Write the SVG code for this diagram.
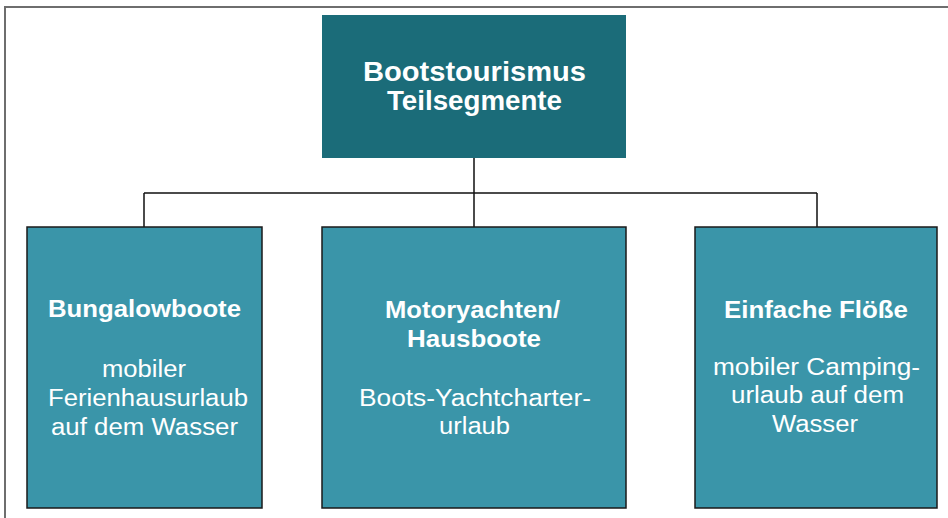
<svg xmlns="http://www.w3.org/2000/svg" width="948" height="518" viewBox="0 0 948 518">
<style>
.frame{fill:none;stroke:#6e6e6e;stroke-width:2}
.top{fill:#1b6c79}
.box{fill:#3a95a9;stroke:#1a1a1a;stroke-width:1.5}
.conn{fill:none;stroke:#111;stroke-width:1.5}
text{font-family:"Liberation Sans",Arial,sans-serif;fill:#ffffff;text-anchor:middle}
.h{font-weight:bold;font-size:24px}
.ht{font-weight:bold;font-size:27px}
.b{font-size:23px}
</style>
<rect width="948" height="518" fill="#ffffff"/>
<path class="frame" d="M5,519 V7 H949"/>
<g id="connectors">
<path class="conn" d="M474,158 V193 M144,193 H817 M144,193 V227 M474,193 V227 M817,193 V227"/>
</g>
<g id="root">
<rect class="top" x="322" y="15" width="304" height="143"/>
<text class="ht" x="474.5" y="81" textLength="223" lengthAdjust="spacingAndGlyphs">Bootstourismus</text>
<text class="ht" x="474.5" y="110" textLength="175" lengthAdjust="spacingAndGlyphs">Teilsegmente</text>
</g>
<g id="bungalowboote">
<rect class="box" x="27" y="227" width="235" height="281"/>
<text class="h" x="144.5" y="317" textLength="193" lengthAdjust="spacingAndGlyphs">Bungalowboote</text>
<text class="b" x="144" y="377" textLength="84" lengthAdjust="spacingAndGlyphs">mobiler</text>
<text class="b" x="148" y="406" textLength="200" lengthAdjust="spacingAndGlyphs">Ferienhausurlaub</text>
<text class="b" x="144.5" y="435" textLength="187" lengthAdjust="spacingAndGlyphs">auf dem Wasser</text>
</g>
<g id="motoryachten">
<rect class="box" x="322" y="227" width="304" height="281"/>
<text class="h" x="472.5" y="318" textLength="175" lengthAdjust="spacingAndGlyphs">Motoryachten/</text>
<text class="h" x="474" y="347" textLength="134" lengthAdjust="spacingAndGlyphs">Hausboote</text>
<text class="b" x="475" y="406" textLength="232" lengthAdjust="spacingAndGlyphs">Boots-Yachtcharter-</text>
<text class="b" x="474.5" y="434" textLength="71" lengthAdjust="spacingAndGlyphs">urlaub</text>
</g>
<g id="floesse">
<rect class="box" x="695" y="227" width="242" height="281"/>
<text class="h" x="816" y="318" textLength="184" lengthAdjust="spacingAndGlyphs">Einfache Flöße</text>
<text class="b" x="816.5" y="375" textLength="207" lengthAdjust="spacingAndGlyphs">mobiler Camping-</text>
<text class="b" x="817.5" y="403" textLength="173" lengthAdjust="spacingAndGlyphs">urlaub auf dem</text>
<text class="b" x="815" y="432" textLength="86" lengthAdjust="spacingAndGlyphs">Wasser</text>
</g>
</svg>
